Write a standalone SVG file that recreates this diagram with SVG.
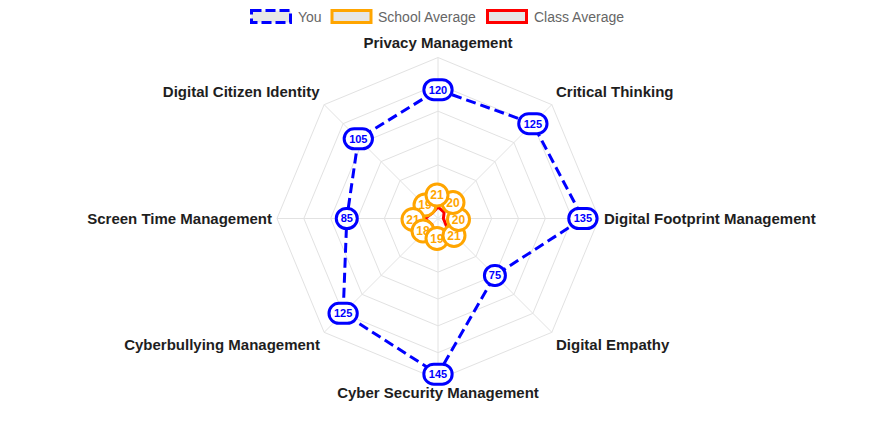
<svg xmlns="http://www.w3.org/2000/svg" width="876" height="438" viewBox="0 0 876 438">
<style>
.grid{fill:none;stroke:#e2e2e2;stroke-width:1}
.axis{stroke:#e2e2e2;stroke-width:1}
.plabel{font-family:"Liberation Sans",Arial,sans-serif;font-size:15px;font-weight:bold;fill:#1e1e1e}
.legtext{font-family:"Liberation Sans",Arial,sans-serif;font-size:14px;fill:#666}
.you-line{fill:none;stroke:#0000ff;stroke-width:3;stroke-dasharray:10 5;stroke-linejoin:miter}
.school-line{fill:none;stroke:#ffa500;stroke-width:3}
.class-line{fill:none;stroke:#ff0000;stroke-width:3}
.bl rect{fill:#fff;stroke:#0000ff;stroke-width:3}
.bl text{font-family:"Liberation Sans",Arial,sans-serif;font-size:11px;font-weight:bold;fill:#0000ff;text-anchor:middle}
.ol circle{fill:#fff;stroke:#ffa500;stroke-width:3}
.ol text{font-family:"Liberation Sans",Arial,sans-serif;font-size:12px;font-weight:bold;fill:#ffa500;text-anchor:middle}
</style>
<rect width="876" height="438" fill="#fff"/>
<g id="legend">
  <rect x="251.5" y="10.5" width="39" height="12" fill="#e6e6e6" stroke="#0000ff" stroke-width="3" stroke-dasharray="10 4"/>
  <text class="legtext" x="298" y="21.5">You</text>
  <rect x="332" y="10.5" width="39" height="12" fill="#e6e6e6" stroke="#ffa500" stroke-width="3"/>
  <text class="legtext" x="378" y="21.5">School Average</text>
  <rect x="487.5" y="10.5" width="39" height="12" fill="#e6e6e6" stroke="#ff0000" stroke-width="3"/>
  <text class="legtext" x="534" y="21.5">Class Average</text>
</g>
<g id="grid">
  <polygon class="grid" points="438,191.67 456.97,199.53 464.83,218.5 456.97,237.47 438,245.33 419.03,237.47 411.17,218.5 419.03,199.53"/>
  <polygon class="grid" points="438,164.83 475.95,180.55 491.67,218.5 475.95,256.45 438,272.17 400.05,256.45 384.33,218.5 400.05,180.55"/>
  <polygon class="grid" points="438,138 494.92,161.58 518.5,218.5 494.92,275.42 438,299 381.08,275.42 357.5,218.5 381.08,161.58"/>
  <polygon class="grid" points="438,111.17 513.9,142.6 545.33,218.5 513.9,294.4 438,325.83 362.1,294.4 330.67,218.5 362.1,142.6"/>
  <polygon class="grid" points="438,84.33 532.87,123.63 572.17,218.5 532.87,313.37 438,352.67 343.13,313.37 303.83,218.5 343.13,123.63"/>
  <polygon class="grid" points="438,57.5 551.84,104.66 599,218.5 551.84,332.34 438,379.5 324.16,332.34 277,218.5 324.16,104.66"/>
  <line class="axis" x1="438" y1="218.5" x2="438" y2="57.5"/>
  <line class="axis" x1="438" y1="218.5" x2="551.84" y2="104.66"/>
  <line class="axis" x1="438" y1="218.5" x2="599" y2="218.5"/>
  <line class="axis" x1="438" y1="218.5" x2="551.84" y2="332.34"/>
  <line class="axis" x1="438" y1="218.5" x2="438" y2="379.5"/>
  <line class="axis" x1="438" y1="218.5" x2="324.16" y2="332.34"/>
  <line class="axis" x1="438" y1="218.5" x2="277" y2="218.5"/>
  <line class="axis" x1="438" y1="218.5" x2="324.16" y2="104.66"/>
</g>
<g id="axis-labels">
  <text class="plabel" x="438" y="47.5" text-anchor="middle">Privacy Management</text>
  <text class="plabel" x="556" y="96.5">Critical Thinking</text>
  <text class="plabel" x="604" y="223.5">Digital Footprint Management</text>
  <text class="plabel" x="556" y="350">Digital Empathy</text>
  <text class="plabel" x="438" y="398" text-anchor="middle">Cyber Security Management</text>
  <text class="plabel" x="320" y="350" text-anchor="end">Cyberbullying Management</text>
  <text class="plabel" x="272" y="223.5" text-anchor="end">Screen Time Management</text>
  <text class="plabel" x="319.5" y="96.5" text-anchor="end">Digital Citizen Identity</text>
</g>
<g id="connectors">
  <polygon id="class-average" class="class-line" points="438,207 444.1,212.4 443.4,218.5 447.1,227.6 438,240 431.9,224.6 425.1,218.5 432.5,213"/>
  <polygon id="school-average" class="school-line" points="438,195.96 453.18,203.32 459.47,218.5 453.94,234.44 438,238.89 424.34,232.16 415.46,218.5 423.58,204.08"/>
  <polygon id="you" class="you-line" points="438,89.7 532.87,123.63 582.9,218.5 494.92,275.42 438,374.13 343.13,313.37 346.77,218.5 358.31,138.81"/>
</g>
<g id="school-labels" class="ol">
  <g id="s7"><circle cx="425" cy="205" r="11"/><text x="425" y="209.3">19</text></g>
  <g id="s6"><circle cx="413" cy="219.5" r="11"/><text x="413" y="223.8">21</text></g>
  <g id="s5"><circle cx="423" cy="231" r="11"/><text x="423" y="235.3">18</text></g>
  <g id="s4"><circle cx="437" cy="238.5" r="11"/><text x="437" y="242.8">19</text></g>
  <g id="s3"><circle cx="454" cy="235.5" r="11"/><text x="454" y="239.8">21</text></g>
  <g id="s2"><circle cx="458.5" cy="219.5" r="11"/><text x="458.5" y="223.8">20</text></g>
  <g id="s1"><circle cx="453" cy="202.5" r="11"/><text x="453" y="206.8">20</text></g>
  <g id="s0"><circle cx="437" cy="195" r="11"/><text x="437" y="199.3">21</text></g>
</g>
<g id="you-labels" class="bl">
  <g id="y0"><rect x="423.85" y="79.7" width="28.3" height="20" rx="10"/><text x="438" y="93.6">120</text></g>
  <g id="y1"><rect x="518.72" y="113.63" width="28.3" height="20" rx="10"/><text x="532.87" y="127.53">125</text></g>
  <g id="y2"><rect x="568.75" y="208.5" width="28.3" height="20" rx="10"/><text x="582.9" y="222.4">135</text></g>
  <g id="y3"><rect x="484.42" y="265.42" width="21" height="20" rx="10"/><text x="494.92" y="279.32">75</text></g>
  <g id="y4"><rect x="423.85" y="364.13" width="28.3" height="20" rx="10"/><text x="438" y="378.03">145</text></g>
  <g id="y5"><rect x="328.98" y="303.37" width="28.3" height="20" rx="10"/><text x="343.13" y="317.27">125</text></g>
  <g id="y6"><rect x="336.27" y="208.5" width="21" height="20" rx="10"/><text x="346.77" y="222.4">85</text></g>
  <g id="y7"><rect x="344.16" y="128.81" width="28.3" height="20" rx="10"/><text x="358.31" y="142.71">105</text></g>
</g>
</svg>
